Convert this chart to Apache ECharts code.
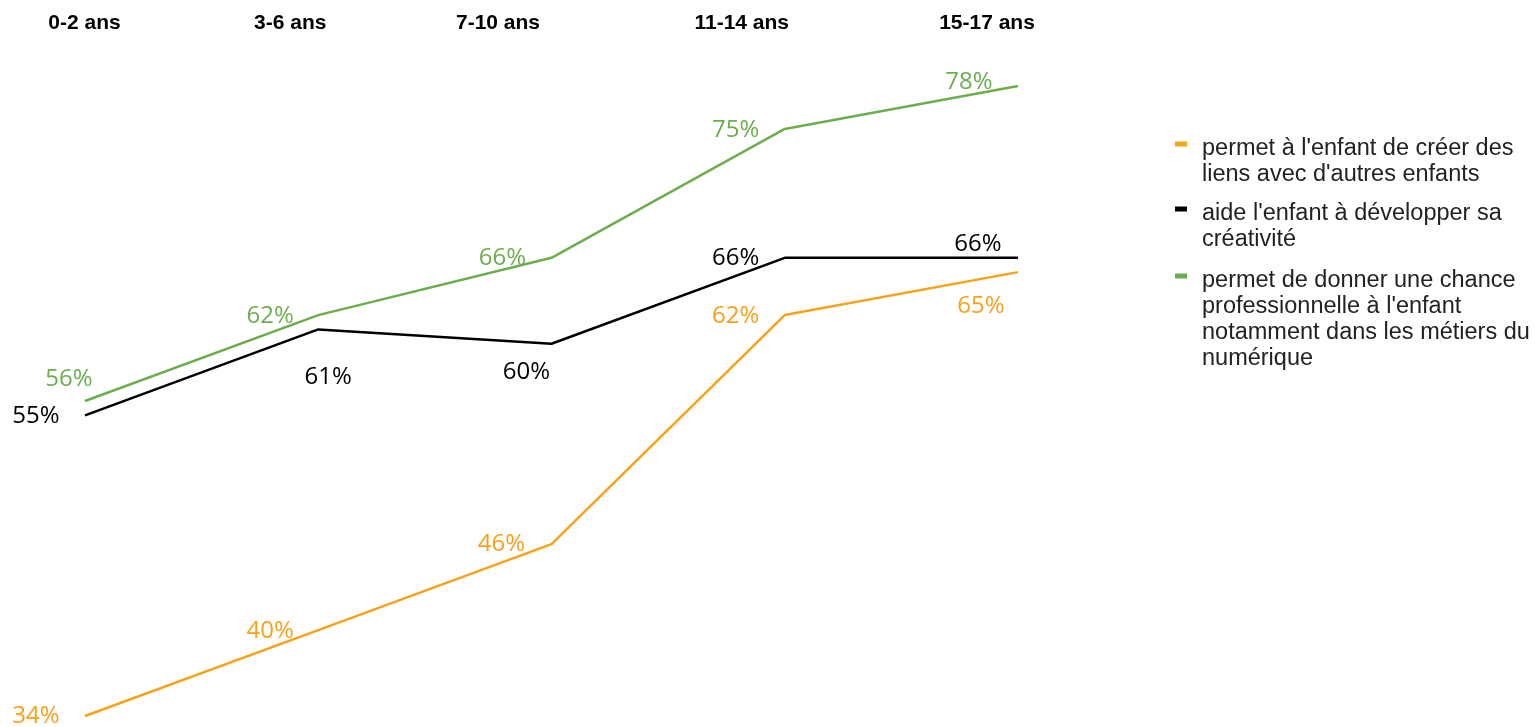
<!DOCTYPE html>
<html>
<head>
<meta charset="utf-8">
<script src="https://cdn.jsdelivr.net/npm/echarts@6/dist/echarts.min.js"></script>
<style>
html,body{margin:0;padding:0;background:#fff;}
#chart{width:1535px;height:727px;}
</style>
</head>
<body>
<div id="chart"></div>
<script>
// ---- data ----
const categories = ['0-2 ans', '3-6 ans', '7-10 ans', '11-14 ans', '15-17 ans'];
const seriesNames = [
  "permet à l'enfant de créer des liens avec d'autres enfants",
  "aide l'enfant à développer sa créativité",
  "permet de donner une chance professionnelle à l'enfant notamment dans les métiers du numérique"
];
const liensValues = [34, 40, 46, 62, 65];
const creativiteValues = [55, 61, 60, 66, 66];
const chanceValues = [56, 62, 66, 75, 78];
const legendLines = [
  ["permet à l'enfant de créer des", "liens avec d'autres enfants"],
  ["aide l'enfant à développer sa", "créativité"],
  ["permet de donner une chance", "professionnelle à l'enfant", "notamment dans les métiers du", "numérique"]
];

// ---- styling (label offsets relative to each point, in px) ----
const colors = ['#F7A21B', '#000000', '#6CAD4E'];
const labelOffsets = [
  [[-49, 0], [-48, 1], [-50, 0], [-49, 1], [-37, 34]],
  [[-49, 1], [10, 48], [-25, 28], [-49, 0], [-40, -14]],
  [[-16, -22], [-48, 1], [-49, 0], [-49, 1], [-49, -4]]
];
const catShift = [1, 56, 107, 86, 62];
const legendFirstLineCenter = [149, 214, 281];
const lineH = 26;
const iconLift = 5;      // icon sits this many px above first-line centre
const iconW = 12, iconH = 5, textGap = 27;

const valueSets = [liensValues, creativiteValues, chanceValues];

function buildData(vals, si) {
  return vals.map((v, i) => ({
    value: v,
    label: { offset: labelOffsets[si][i] }
  }));
}

const rich = {};
catShift.forEach((p, i) => {
  rich['c' + i] = {
    fontFamily: 'Liberation Sans, Arial, sans-serif',
    fontWeight: 'bold',
    fontSize: 21,
    color: '#000',
    lineHeight: 24,
    padding: [0, p, 0, 0]
  };
});

const series = valueSets.map((vals, si) => ({
  name: seriesNames[si],
  type: 'line',
  data: buildData(vals, si),
  symbol: 'circle',
  symbolSize: 0.1,
  showSymbol: true,
  lineStyle: { width: 2.5, color: colors[si] },
  itemStyle: { color: colors[si] },
  emphasis: { disabled: true },
  label: {
    show: true,
    position: 'inside',
    formatter: '{c}%',
    fontFamily: 'Open Sans, sans-serif',
    fontWeight: 400,
    fontSize: 24,
    color: colors[si]
  },
  z: 3 - si
}));

const legends = seriesNames.map((name, si) => {
  const n = legendLines[si].length;
  // offset of icon centre above the text block centre
  const off = (n - 1) * lineH / 2 + iconLift;
  const boxH = 2 * off + iconH;
  const boxW = textGap - 5;
  const icon = 'path://M0,0L' + iconW + ',0L' + iconW + ',' + iconH + 'L0,' + iconH + 'Z' +
               'M' + boxW + ',' + boxH + 'L' + (boxW - 0.001) + ',' + boxH + 'L' + boxW + ',' + boxH + 'Z';
  return {
    data: [{ name: name, icon: icon }],
    orient: 'vertical',
    left: 1175,
    top: legendFirstLineCenter[si] - lineH / 2,
    padding: 0,
    itemWidth: boxW,
    itemHeight: boxH,
    selectedMode: false,
    formatter: function () {
      return legendLines[si].join('\n');
    },
    textStyle: {
      fontFamily: 'Liberation Sans, Arial, sans-serif',
      fontSize: 23.5,
      lineHeight: lineH,
      color: '#222'
    }
  };
});

const option = {
  backgroundColor: '#fff',
  animation: false,
  grid: { left: 85, right: 517, top: 86, bottom: 11 },
  xAxis: {
    type: 'category',
    data: categories,
    boundaryGap: false,
    position: 'top',
    axisLine: { show: false },
    axisTick: { show: false },
    splitLine: { show: false },
    axisLabel: {
      interval: 0,
      margin: 51,
      formatter: (v, i) => '{c' + i + '|' + v + '}',
      rich: rich
    }
  },
  yAxis: {
    type: 'value',
    min: 34,
    max: 78,
    show: false
  },
  legend: legends,
  series: series
};

const chart = echarts.init(document.getElementById('chart'), null, { renderer: 'canvas' });
chart.setOption(option);
</script>
</body>
</html>
